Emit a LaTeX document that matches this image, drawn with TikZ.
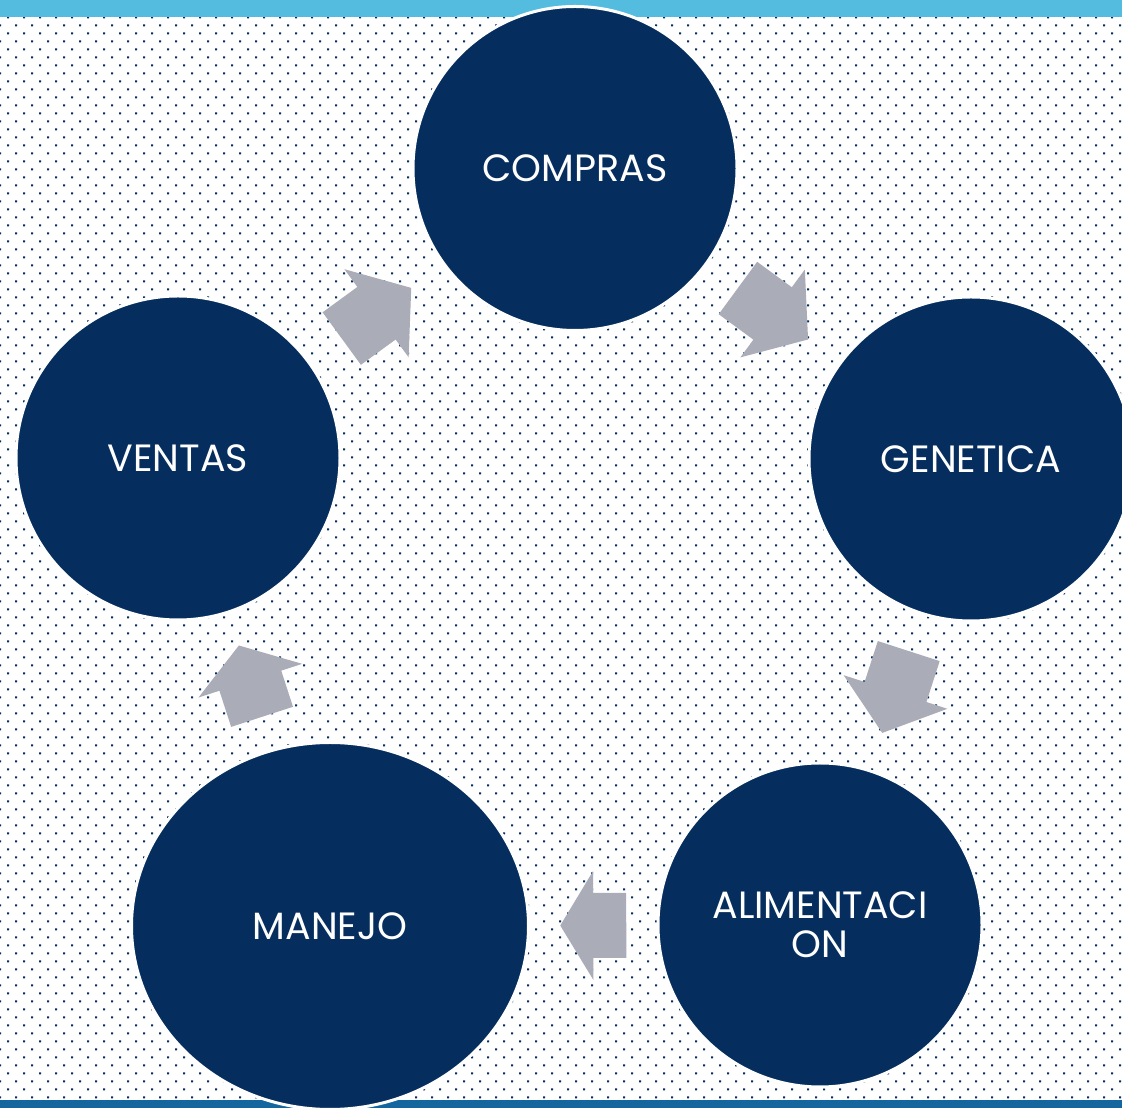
\documentclass[tikz,border=0pt]{standalone}
\usepackage{fontspec}
\setmainfont{Poppins}
\usetikzlibrary{
  shapes.geometric % ellipse for the larger stage
}
\definecolor{stagenavy}{RGB}{5,46,94}
\definecolor{topband}{RGB}{84,189,223}
\definecolor{bottomband}{RGB}{19,103,158}
\definecolor{arrowgray}{RGB}{170,172,184}

\begin{document}
\begin{tikzpicture}[
  x=1pt, y=1pt,
  font=\fontsize{38}{39}\selectfont,
  stage/.style={
     circle,
     draw=white,
     line width=3pt,
     fill=stagenavy,
     text=white,
     minimum size=324pt,
     inner sep=0pt,
     align=center
  },
  bigstage/.style={
     stage,
     ellipse,
     minimum width=397pt,
     minimum height=367pt
  },
  pics/cyclearrow/.style n args={2}{
     code={
       \fill[arrowgray] (-#1/2,-32.5) -- (#1/2-#2,-32.5) -- (#1/2-#2,-54.5)
         -- (#1/2,0) -- (#1/2-#2,54.5) -- (#1/2-#2,32.5) -- (-#1/2,32.5) -- cycle;
     }
  },
  onpath/.style={midway, sloped, allow upside down}
]
   % The page, the dotted ground and the two bands
   \useasboundingbox (0,0) rectangle (1122,1108);
   \clip (0,0) rectangle (1122,1108);
   \fill[white] (0,0) rectangle (1122,1108);
   \foreach \k in {0,...,67}{
     \fill[stagenavy] \foreach \i in {0,...,70}{
         ({16*\i-1},{1081.7-16*\k}) rectangle ++(2,2)
         ({16*\i+7},{1089.7-16*\k}) rectangle ++(2,2)
       };
   }
   \fill[topband] (0,1091) rectangle (1122,1108);
   \fill[bottomband] (0,0) rectangle (1122,8);

   % The stages of the cycle
   \node[stage] (compras) at (575,939.5) {COMPRAS};
   \node[stage] (genetica) at (971,649) {GENETICA};
   \node[stage] (alimentacion) at (820,183) {ALIMENTACI\\ON};
   \node[bigstage] (manejo) at (330,182) {MANEJO};
   \node[stage] (ventas) at (178,650) {VENTAS};

   % The block arrows between the stages
   \path (compras) -- (genetica) pic[onpath] {cyclearrow={87}{44}};
   \path (genetica) -- (alimentacion) pic[onpath] {cyclearrow={86}{43}};
   \path (alimentacion) -- (manejo) pic[onpath] {cyclearrow={66}{33}};
   \path (manejo) -- (ventas) pic[onpath] {cyclearrow={75}{37}};
   \path (ventas) -- (compras) pic[onpath] {cyclearrow={86}{43}};
\end{tikzpicture}
\end{document}
